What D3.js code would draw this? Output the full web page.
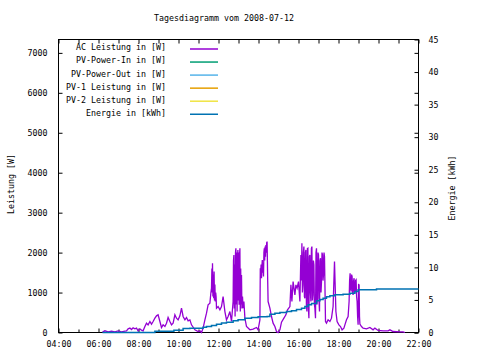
<!DOCTYPE html>
<html lang="de">
<head>
<meta charset="UTF-8">
<title>Tagesdiagramm</title>
<style>
  body { margin: 0; background: white; }
  svg { display: block; background: white; }
  text { font-family: "DejaVu Sans Mono", monospace; font-size: 8.3px; fill: black; }
</style>
</head>
<body>
<script src="https://d3js.org/d3.v7.min.js"></script>
<script>
// AC Leistung [W], Zeit in Stunden
const acHours = [6.20,6.32,6.48,6.65,6.82,6.98,7.15,7.32,7.40,7.48,7.57,7.65,7.73,7.82,7.90,7.98,8.07,8.15,8.23,8.32,8.40,8.48,8.57,8.65,8.73,8.82,8.90,8.98,9.07,9.15,9.23,9.32,9.40,9.48,9.57,9.65,9.73,9.82,9.90,9.98,10.07,10.15,10.23,10.32,10.40,10.48,
  10.57,10.65,10.82,10.98,11.07,11.15,11.23,11.32,11.40,11.48,11.57,11.62,11.65,11.67,11.69,11.70,11.72,11.74,11.76,11.78,11.80,11.82,11.84,11.86,11.88,11.90,11.98,12.07,12.15,12.23,12.32,12.40,12.48,12.57,12.65,
  12.73,12.75,12.77,12.79,12.81,12.83,12.85,12.87,12.89,12.91,12.93,12.95,12.97,12.99,13.01,13.03,13.05,13.07,13.09,13.11,13.13,13.15,13.17,13.20,13.23,13.27,13.32,13.40,13.57,13.73,13.90,13.98,
  14.07,14.09,14.11,14.13,14.15,14.17,14.19,14.21,14.23,14.25,14.27,14.29,14.31,14.33,14.35,14.37,14.39,14.41,14.43,14.46,14.48,14.57,14.65,14.73,14.82,14.90,14.98,15.07,15.15,15.27,15.37,15.45,15.57,15.62,15.67,15.73,15.82,15.87,15.93,16.00,
  16.07,16.10,16.12,16.145,16.17,16.195,16.22,16.245,16.27,16.295,16.32,16.345,16.37,16.395,16.42,16.445,16.47,16.495,16.52,16.545,16.57,16.595,16.62,16.645,16.67,16.695,16.72,16.745,16.77,16.795,16.82,16.85,16.875,16.90,16.925,16.95,16.975,17.00,17.025,17.05,17.075,17.10,17.125,17.15,17.175,17.20,17.225,17.25,17.275,17.30,17.35,
  17.40,17.48,17.57,17.65,17.73,17.80,17.87,17.93,18.02,18.10,18.18,18.27,18.32,18.40,18.48,
  18.53,18.555,18.58,18.605,18.63,18.655,18.68,18.705,18.73,18.755,18.78,18.805,18.83,18.855,18.88,18.905,18.93,18.955,18.98,19.005,19.03,19.05,19.07,
  19.15,19.23,19.40,19.57,19.73,19.82,19.98,20.23,20.48,20.57,20.73,21.07,21.23,21.32];
const acWatts = [10,42,17,34,17,42,17,34,42,92,110,75,117,92,110,42,92,58,42,150,233,192,275,208,275,359,417,442,275,125,192,150,233,375,275,192,233,442,359,317,417,609,401,317,375,292,
  317,192,67,25,42,0,109,317,484,692,734,1000,1109,1600,1000,1734,900,1450,860,1525,800,1200,775,1000,900,609,650,567,650,900,525,317,400,525,275,
  775,1800,1942,600,1700,400,2000,2109,700,2000,525,1900,2067,800,2000,692,1900,2109,525,1600,700,1442,600,900,609,775,359,150,67,84,126,67,
  317,1609,1500,1700,1359,1650,1817,1500,1609,1400,2000,2109,1800,2150,1900,2192,2000,2250,2275,1300,775,609,400,234,150,25,0,67,259,359,442,567,650,1192,775,1275,942,1192,1109,1275,
  775,1500,1942,1300,2234,1000,1192,2000,2150,900,859,2000,2067,700,525,2100,2109,600,359,1900,1942,1000,775,2100,2150,800,942,1800,1692,700,609,359,2000,2109,700,859,2000,1942,800,525,1800,1859,1000,1275,2000,1942,1300,1442,2000,1900,276,
  234,317,276,359,650,1775,525,276,192,150,67,109,192,317,400,
  775,1300,1484,1100,1025,1450,1400,1000,942,1300,1359,1000,1025,1300,1317,900,775,400,192,1200,1192,400,209,
  150,109,92,126,67,109,51,42,42,67,25,17,17,0];

// Energie [kWh]
const energyHours = [6.20,8.82,9.77,10.23,10.57,11.23,11.40,11.65,11.90,12.15,12.40,12.73,12.98,13.32,13.65,13.98,14.43,14.57,14.82,15.07,15.40,15.65,15.90,16.15,16.32,16.48,16.65,16.90,17.07,17.23,17.40,17.57,17.82,18.23,18.57,18.82,18.98,19.90,22.0];
const energyKwh = [0,0.2,0.35,0.6,0.67,0.82,0.92,1.08,1.28,1.44,1.59,1.79,1.95,2.2,2.3,2.41,2.46,2.82,2.97,3.07,3.23,3.33,3.53,3.74,3.99,4.25,4.45,4.86,5.07,5.27,5.48,5.63,5.78,5.88,6.04,6.29,6.55,6.7,6.7];

const legendNames = ["AC Leistung in [W]", "PV-Power-In in [W]", "PV-Power-Out in [W]", "PV-1 Leistung in [W]", "PV-2 Leistung in [W]", "Energie in [kWh]"];
const legendColors = ["#9400d3", "#009e73", "#56b4e9", "#e69f00", "#f0e442", "#0072b2"];

const xTickHours = [4, 6, 8, 10, 12, 14, 16, 18, 20, 22];
const xTickLabels = ["04:00", "06:00", "08:00", "10:00", "12:00", "14:00", "16:00", "18:00", "20:00", "22:00"];
const yTicks = [0, 1000, 2000, 3000, 4000, 5000, 6000, 7000];
const y2Ticks = [0, 5, 10, 15, 20, 25, 30, 35, 40, 45];

const W = 480, H = 360;
const pLeft = 58.5, pRight = 418.5, pTop = 39.5, pBottom = 332.5;

const svg = d3.select("body").append("svg")
  .attr("width", W)
  .attr("height", H);

const x = d3.scaleLinear().domain([4, 22]).range([pLeft, pRight]);
const y = d3.scaleLinear().domain([0, 7335]).range([pBottom, pTop]);
const y2 = d3.scaleLinear().domain([0, 45]).range([pBottom, pTop]);

function clean(g) {
  g.attr("font-size", null).attr("font-family", null);
  g.select(".domain").remove();
  g.selectAll("line").attr("stroke", "black");
}

const hours = d3.range(4, 23);

// x axes
svg.append("g").attr("transform", `translate(0,${pBottom})`)
  .call(d3.axisBottom(x).tickValues(xTickHours).tickSize(-4).tickPadding(9)
    .tickFormat((d, i) => xTickLabels[i]))
  .call(clean);
svg.append("g").attr("transform", `translate(0,${pBottom})`)
  .call(d3.axisBottom(x).tickValues(hours.filter(h => h % 2)).tickSize(-3).tickFormat(""))
  .call(clean);
svg.append("g").attr("transform", `translate(0,${pTop})`)
  .call(d3.axisTop(x).tickValues(hours).tickSize(-4).tickFormat(""))
  .call(clean);

// y axes
svg.append("g").attr("transform", `translate(${pLeft},0)`)
  .call(d3.axisLeft(y).tickValues(yTicks).tickSize(-4).tickPadding(11).tickFormat(d3.format("d")))
  .call(clean);
svg.append("g").attr("transform", `translate(${pRight},0)`)
  .call(d3.axisRight(y).tickValues(yTicks).tickSize(-4).tickFormat(""))
  .call(clean);
svg.append("g").attr("transform", `translate(${pRight},0)`)
  .call(d3.axisRight(y2).tickValues(y2Ticks).tickSize(-4).tickPadding(10))
  .call(clean);

// frame
svg.append("rect")
  .attr("x", pLeft).attr("y", pTop)
  .attr("width", pRight - pLeft).attr("height", pBottom - pTop)
  .attr("fill", "none").attr("stroke", "black").attr("stroke-width", 1);

// data lines
const acData = acHours.map((h, i) => [h, acWatts[i]]);
const enData = energyHours.map((h, i) => [h, energyKwh[i]]);

svg.append("path")
  .datum(acData)
  .attr("fill", "none")
  .attr("stroke", legendColors[0])
  .attr("stroke-width", 1.3)
  .attr("d", d3.line().x(d => x(d[0])).y(d => y(d[1])));

svg.append("path")
  .datum(enData)
  .attr("fill", "none")
  .attr("stroke", legendColors[5])
  .attr("stroke-width", 1.5)
  .attr("d", d3.line().curve(d3.curveStepAfter).x(d => x(d[0])).y(d => y2(d[1])));

// legend
const leg = svg.append("g");
legendNames.forEach((name, i) => {
  const ly = 49 + i * 13.05;
  leg.append("text")
    .attr("x", 166).attr("y", ly - 1.5)
    .attr("dy", "0.35em")
    .attr("text-anchor", "end")
    .text(name);
  leg.append("line")
    .attr("x1", 190).attr("x2", 218)
    .attr("y1", ly).attr("y2", ly)
    .attr("stroke", legendColors[i])
    .attr("stroke-width", 1.5);
});

// titles
svg.append("text")
  .attr("x", 224).attr("y", 21)
  .attr("text-anchor", "middle")
  .text("Tagesdiagramm vom 2008-07-12");

svg.append("text")
  .attr("transform", "translate(14,184) rotate(-90)")
  .attr("text-anchor", "middle")
  .text("Leistung [W]");

svg.append("text")
  .attr("transform", "translate(455,188) rotate(-90)")
  .attr("text-anchor", "middle")
  .text("Energie [kWh]");
</script>
</body>
</html>
